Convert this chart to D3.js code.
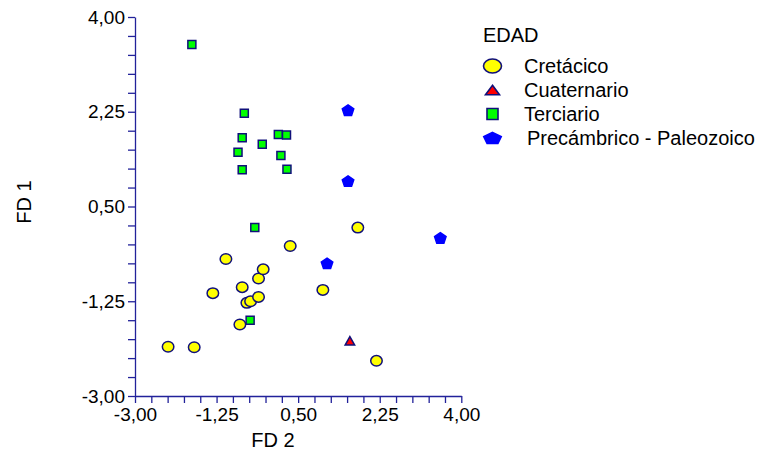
<!DOCTYPE html>
<html>
<head>
<meta charset="utf-8">
<script src="https://cdn.jsdelivr.net/npm/d3@7"></script>
<style>
  body { margin: 0; background: #fff; }
  text { font-family: "Liberation Sans", Arial, sans-serif; fill: #000; }
</style>
</head>
<body>
<div class="chart"></div>
<script>
// data
var groups = ["Cretácico", "Cuaternario", "Terciario", "Precámbrico - Paleozoico"];

var cretacicoX = [-2.29, -1.73, -1.33, -1.05, -0.70, -0.75, -0.60, -0.52, -0.35, -0.35, -0.25, 0.33, 1.03, 1.78, 2.18];
var cretacicoY = [-2.09, -2.10, -1.10, -0.47, -0.99, -1.68, -1.28, -1.25, -1.17, -0.83, -0.66, -0.23, -1.04, 0.11, -2.35];

var cuaternarioX = [1.61];
var cuaternarioY = [-1.98];

var terciarioX = [-1.78, -0.655, -0.70, -0.27, 0.075, 0.25, -0.79, 0.13, -0.70, 0.26, -0.43, -0.53];
var terciarioY = [3.49, 2.22, 1.77, 1.65, 1.83, 1.82, 1.50, 1.44, 1.18, 1.19, 0.11, -1.60];

var precambricoX = [1.57, 1.57, 3.55, 1.12];
var precambricoY = [2.28, 0.97, -0.08, -0.55];

var majorTicks = [-3.00, -1.25, 0.50, 2.25, 4.00];
var minorStep = 0.35;

var series = [
    {name: groups[0], xs: cretacicoX, ys: cretacicoY, shape: "ellipse", fill: "#ffff00"},
    {name: groups[1], xs: cuaternarioX, ys: cuaternarioY, shape: "triangle", fill: "#ff0000"},
    {name: groups[2], xs: terciarioX, ys: terciarioY, shape: "square", fill: "#00ff00"},
    {name: groups[3], xs: precambricoX, ys: precambricoY, shape: "pentagon", fill: "#0000ff"}
];

var axisColor = "#22229a";
var edgeColor = "#10107a";

var margin = {top: 17, left: 135, right: 310, bottom: 58},
    width = 771,
    height = 454;

var x = d3.scaleLinear().domain([-3, 4]).range([margin.left, width - margin.right + 0.3]);
var y = d3.scaleLinear().domain([-3, 4]).range([height - margin.bottom, margin.top]);

var locale = d3.formatLocale({decimal: ",", thousands: ".", grouping: [3], currency: ["", ""], minus: "-"});
var fmt = locale.format(".2f");

var allTicks = d3.range(0, 21).map(function (i) { return -3 + i * minorStep; });
function isMajor(v) {
    return majorTicks.some(function (m) { return Math.abs(m - v) < 1e-6; });
}

// shape paths, centred on 0,0 with given box
function markerPath(shape, w, h) {
    if (shape === "ellipse") {
        var rx = w / 2, ry = h / 2;
        return "M" + (-rx) + ",0A" + rx + "," + ry + " 0 1,0 " + rx + ",0A" + rx + "," + ry + " 0 1,0 " + (-rx) + ",0Z";
    }
    if (shape === "square") {
        return "M" + (-w / 2) + "," + (-h / 2) + "h" + w + "v" + h + "h" + (-w) + "Z";
    }
    if (shape === "triangle") {
        return "M0," + (-h / 2) + "L" + (w / 2) + "," + (h / 2) + "L" + (-w / 2) + "," + (h / 2) + "Z";
    }
    // pentagon
    var sx = w / (2 * Math.sin(72 * Math.PI / 180)),
        sy = h / (1 + Math.cos(36 * Math.PI / 180)),
        shift = (1 - Math.cos(36 * Math.PI / 180)) / 2;
    var pts = d3.range(5).map(function (k) {
        var a = (-90 + k * 72) * Math.PI / 180;
        return [Math.cos(a) * sx, (Math.sin(a) + shift) * sy];
    });
    return "M" + pts.map(function (p) { return p[0].toFixed(2) + "," + p[1].toFixed(2); }).join("L") + "Z";
}

var plotSize = {ellipse: [11.5, 10.5], triangle: [9.5, 8.5], square: [8, 8], pentagon: [11.5, 10.5]};
var legendSize = {ellipse: [18, 14], triangle: [14, 9.5], square: [11, 11], pentagon: [17.5, 11]};

var svg = d3.select("div.chart").append("svg")
    .attr("width", width)
    .attr("height", height);

// X axis
var xAxis = d3.axisBottom(x)
    .tickValues(allTicks)
    .tickSize(7)
    .tickSizeOuter(0)
    .tickFormat(function (d) { return isMajor(d) ? fmt(d) : ""; });

var gx = svg.append("g")
    .attr("transform", "translate(0," + y(-3) + ")")
    .call(xAxis);

// Y axis
var yAxis = d3.axisLeft(y)
    .tickValues(allTicks)
    .tickSize(7)
    .tickSizeOuter(0)
    .tickFormat(function (d) { return isMajor(d) ? fmt(d) : ""; });

var gy = svg.append("g")
    .attr("transform", "translate(" + x(-3) + ",0)")
    .call(yAxis);

[gx, gy].forEach(function (g) {
    g.select(".domain").attr("stroke", axisColor).attr("stroke-width", 1.3);
    g.selectAll(".tick line").attr("stroke", axisColor).attr("stroke-width", 1.3);
    g.selectAll(".tick text")
        .attr("fill", "#000")
        .style("font-family", '"Liberation Sans", Arial, sans-serif')
        .style("font-size", "19px");
});
gx.selectAll(".tick text").attr("y", 12);
gy.selectAll(".tick text").attr("x", -10);

// axis titles
svg.append("text")
    .attr("x", 273)
    .attr("y", 447)
    .attr("text-anchor", "middle")
    .style("font-size", "20px")
    .text("FD 2");

svg.append("text")
    .attr("transform", "translate(31,202) rotate(-90)")
    .attr("text-anchor", "middle")
    .style("font-size", "20px")
    .text("FD 1");

// points
series.forEach(function (s) {
    var pts = s.xs.map(function (v, i) { return {x: v, y: s.ys[i]}; });
    svg.append("g")
        .selectAll("path")
        .data(pts)
        .enter().append("path")
        .attr("transform", function (d) { return "translate(" + x(d.x) + "," + y(d.y) + ")"; })
        .attr("d", markerPath(s.shape, plotSize[s.shape][0], plotSize[s.shape][1]))
        .attr("fill", s.fill)
        .attr("stroke", s.shape === "pentagon" ? s.fill : edgeColor)
        .attr("stroke-width", 1.5);
});

// legend
var legend = svg.append("g").attr("transform", "translate(483,0)");

legend.append("text")
    .attr("x", 0)
    .attr("y", 42)
    .style("font-size", "20px")
    .text("EDAD");

var item = legend.selectAll("g.item")
    .data(series)
    .enter().append("g")
    .attr("class", "item")
    .attr("transform", function (d, i) { return "translate(0," + (66 + i * 24) + ")"; });

item.append("path")
    .attr("transform", "translate(9.5,0)")
    .attr("d", function (d) { return markerPath(d.shape, legendSize[d.shape][0], legendSize[d.shape][1]); })
    .attr("fill", function (d) { return d.fill; })
    .attr("stroke", function (d) { return d.shape === "pentagon" ? d.fill : edgeColor; })
    .attr("stroke-width", 1.6);

item.append("text")
    .attr("x", function (d, i) { return i === 3 ? 44 : 41; })
    .attr("y", 7)
    .style("font-size", "20px")
    .text(function (d) { return d.name; });
</script>
</body>
</html>
